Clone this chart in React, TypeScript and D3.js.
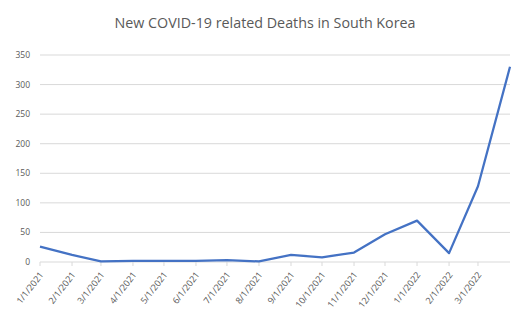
import React from "react";
import * as d3 from "d3";

const months = [
  "1/1/2021", "2/1/2021", "3/1/2021", "4/1/2021", "5/1/2021", "6/1/2021",
  "7/1/2021", "8/1/2021", "9/1/2021", "10/1/2021", "11/1/2021", "12/1/2021",
  "1/1/2022", "2/1/2022", "3/1/2022", "4/1/2022",
];
const deaths = [26, 12, 1, 2, 2, 2, 3, 1, 12, 8, 16, 47, 70, 15, 128, 330];
const tickLabels = months.slice(0, 15);
const yTicks = [0, 50, 100, 150, 200, 250, 300, 350];

const parse = d3.timeParse("%m/%d/%Y");

export default function App() {
  const width = 520;
  const height = 336;
  const x = d3
    .scaleTime()
    .domain([parse(months[0])!, parse(months[months.length - 1])!])
    .range([40, 510]);
  const y = d3.scaleLinear().domain([0, 350]).range([262, 55]);

  const line = d3
    .line<number>()
    .x((d, i) => x(parse(months[i])!))
    .y(d => y(d));

  const grey = "#595959";

  return (
    <svg
      width={width}
      height={height}
      style={{ position: "absolute", left: 0, top: 0, fontFamily: "Open Sans, sans-serif" }}
    >
      <text x={265} y={28} textAnchor="middle" fontSize={14.3} fill={grey}>
        New COVID-19 related Deaths in South Korea
      </text>
      {yTicks.map(t => (
        <g key={t}>
          <line x1={40} x2={510} y1={y(t)} y2={y(t)} stroke="#d9d9d9" strokeWidth={1} />
          <text x={30} y={y(t) + 3} textAnchor="end" fontSize={8.5} fill={grey}>
            {t}
          </text>
        </g>
      ))}
      {tickLabels.map(m => {
        const tx = x(parse(m)!);
        return (
          <g key={m}>
            <line x1={tx} x2={tx} y1={262} y2={266} stroke="#d9d9d9" />
            <text
              transform={`translate(${tx + 4},${275}) rotate(-52)`}
              textAnchor="end"
              fontSize={9}
              fill={grey}
            >
              {m}
            </text>
          </g>
        );
      })}
      <path d={line(deaths) || ""} fill="none" stroke="#4472c4" strokeWidth={2.25} strokeLinejoin="round" />
    </svg>
  );
}
